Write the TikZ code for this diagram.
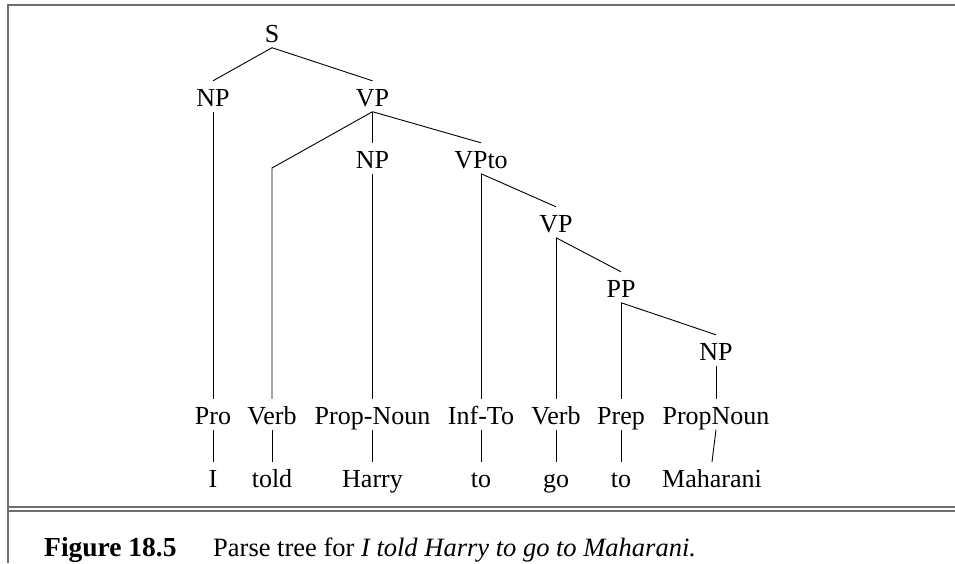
\documentclass[tikz,border=0pt]{standalone}
\usepackage{fontspec}
\setmainfont{Liberation Serif}
\begin{document}
\begin{tikzpicture}[x=1pt,y=-1pt,
  font=\fontsize{26}{30}\selectfont,
  lab/.style={anchor=base, inner xsep=0pt, inner ysep=5.5pt, text height=19.5pt, text depth=0pt},
  edge/.style={line width=0.9pt, black},
  frame/.style={draw=black!57, line width=1.7pt},
  caption/.style={anchor=base west, inner sep=0pt}]
\useasboundingbox (0,0) rectangle (955,563);
% frame
\draw[frame] (8,4.8) -- (955,4.8);
\draw[frame] (8,4) -- (8,563);
\draw[frame] (8,507) -- (955,507);
\draw[frame] (8,510.7) -- (955,510.7);
% tree nodes
\node[lab] (S) at (272,42) {S};
\node[lab] (NPa) at (213,106) {NP};
\node[lab] (VPa) at (372.5,106) {VP};
\node[lab] (NPb) at (372.5,168) {NP};
\node[lab] (VPto) at (481,168) {VPto};
\node[lab] (VPb) at (556,232) {VP};
\node[lab] (PP) at (621,297) {PP};
\node[lab] (NPc) at (716,360) {NP};
% preterminals
\node[lab] (Pro) at (213,424) {Pro};
\node[lab] (Verba) at (272,424) {Verb};
\node[lab] (PropNa) at (372.5,424) {Prop-Noun};
\node[lab] (InfTo) at (481,424) {Inf-To};
\node[lab] (Verbb) at (556,424) {Verb};
\node[lab] (Prep) at (621,424) {Prep};
\node[lab] (PropNb) at (716,424) {PropNoun};
% words
\node[lab] (wI) at (213,487) {I};
\node[lab] (wtold) at (272,487) {told};
\node[lab] (wHarry) at (372.5,487) {Harry};
\node[lab] (wto) at (481,487) {to};
\node[lab] (wgo) at (556,487) {go};
\node[lab] (wtob) at (621,487) {to};
\node[lab] (wMah) at (712,487) {Maharani};
\coordinate (vc) at (272,168);
% edges
\draw[edge] (S.south) -- (NPa.north);
\draw[edge] (S.south) -- (VPa.north);
\draw[edge] (NPa.south) -- (Pro.north);
\draw[edge] (VPa.south) -- (vc) -- (Verba.north);
\draw[edge] (VPa.south) -- (NPb.north);
\draw[edge] (VPa.south) -- (VPto.north);
\draw[edge] (NPb.south) -- (PropNa.north);
\draw[edge] (VPto.south) -- (InfTo.north);
\draw[edge] (VPto.south) -- (VPb.north);
\draw[edge] (VPb.south) -- (Verbb.north);
\draw[edge] (VPb.south) -- (PP.north);
\draw[edge] (PP.south) -- (Prep.north);
\draw[edge] (PP.south) -- (NPc.north);
\draw[edge] (NPc.south) -- (PropNb.north);
\draw[edge] (Pro.south) -- (wI.north);
\draw[edge] (Verba.south) -- (wtold.north);
\draw[edge] (PropNa.south) -- (wHarry.north);
\draw[edge] (InfTo.south) -- (wto.north);
\draw[edge] (Verbb.south) -- (wgo.north);
\draw[edge] (Prep.south) -- (wtob.north);
\draw[edge] (PropNb.south) -- (wMah.north);
% caption
\node[caption] (fig) at (44,556) {\fontsize{27.5}{30}\selectfont\bfseries Figure 18.5};
\node[caption] (cap) at (213,556) {\fontsize{26.5}{30}\selectfont Parse tree for \textit{I told Harry to go to Maharani.}};
\end{tikzpicture}
\end{document}
